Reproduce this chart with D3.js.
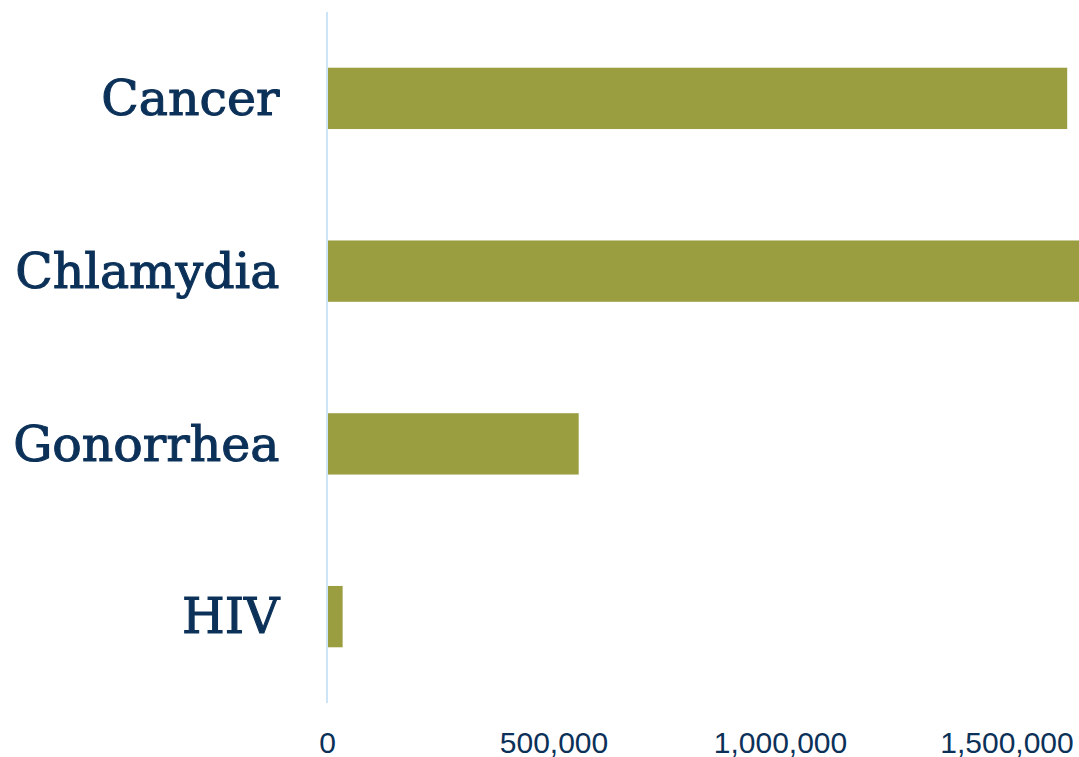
<!DOCTYPE html>
<html><head><meta charset="utf-8">
<script src="https://cdn.jsdelivr.net/npm/d3@7"></script>
<style>
html,body{margin:0;padding:0;background:#fff;}
svg{display:block;}
</style></head>
<body>
<svg id="chart" width="1079" height="757"></svg>
<script>
const categories = ["Cancer", "Chlamydia", "Gonorrhea", "HIV"];
const values = [1634000, 1708569, 555608, 34500];
const tickValues = [0, 500000, 1000000, 1500000];

const svg = d3.select("#chart");
const x0 = 327, yTop = 12, yBot = 703;
const pxPer500k = 226.5;

const x = d3.scaleLinear().domain([0, 2000000]).range([x0, x0 + pxPer500k * 4]);
const y = d3.scaleBand().domain(categories).range([yTop, yBot]).paddingInner(0.645).paddingOuter(0.3225);

const navy = "#0c3159";
const barColor = "#9a9d40";

svg.append("g").selectAll("rect").data(categories).join("rect")
  .attr("x", x(0) + 1)
  .attr("y", d => y(d))
  .attr("width", (d, i) => x(values[i]) - x(0) - 1)
  .attr("height", y.bandwidth())
  .attr("fill", barColor);

// vertical axis line
svg.append("line")
  .attr("x1", x(0)).attr("x2", x(0))
  .attr("y1", yTop).attr("y2", yBot)
  .attr("stroke", "#bcdcf7").attr("stroke-width", 1.5);

// category labels
const yAxis = d3.axisLeft(y).tickSize(0).tickPadding(47.5);
const gy = svg.append("g").attr("transform", `translate(${x0},0)`).call(yAxis);
gy.select(".domain").remove();
gy.selectAll("text")
  .attr("fill", navy)
  .attr("stroke", navy)
  .attr("stroke-width", 1.1)
  .attr("dy", "0.34em")
  .style("font-family", "'DejaVu Serif', serif")
  .style("font-size", "49px");

// x tick labels
const xAxis = d3.axisBottom(x).tickValues(tickValues).tickSize(0).tickPadding(0)
  .tickFormat(d3.format(","));
const gx = svg.append("g").attr("transform", `translate(0,${yBot})`).call(xAxis);
gx.select(".domain").remove();
gx.selectAll("text")
  .attr("fill", navy)
  .attr("dy", "0")
  .attr("y", 49.5)
  .style("font-family", "'Liberation Sans', Arial, sans-serif")
  .style("font-size", "30px");
</script>
</body></html>
